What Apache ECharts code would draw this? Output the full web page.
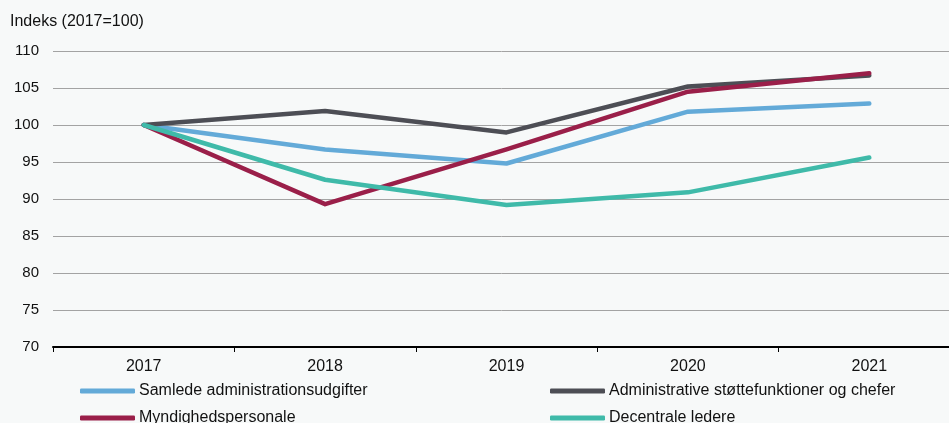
<!DOCTYPE html>
<html><head><meta charset="utf-8">
<script src="https://cdn.jsdelivr.net/npm/echarts@6/dist/echarts.min.js"></script>
<style>html,body{margin:0;padding:0;background:#f7f9f9}#c{width:949px;height:423px}</style>
</head><body><div id="c"></div>
<script>
const years = ['2017','2018','2019','2020','2021'];
const samlede = [100, 96.7, 94.8, 101.8, 102.9];
const administrative = [100, 101.9, 99.0, 105.2, 106.7];
const myndighed = [100, 89.3, 96.7, 104.5, 107.0];
const decentrale = [100, 92.6, 89.2, 90.9, 95.6];
const names = ['Samlede administrationsudgifter','Administrative støttefunktioner og chefer','Myndighedspersonale','Decentrale ledere'];
const colors = ['#63aad8','#4d4e55','#9a1f49','#3fbaa9'];
const data = [samlede, administrative, myndighed, decentrale];
const legendPos = [[80,383],[550,383],[80,410],[550,410]];

const chart = echarts.init(document.getElementById('c'));
const font = 'Liberation Sans, Arial, sans-serif';
chart.setOption({
  backgroundColor: '#f7f9f9',
  animation: false,
  textStyle: {fontFamily: font},
  graphic: [{type:'text', left: 10, top: 14, style:{text:'Indeks (2017=100)', font:'16px Liberation Sans, Arial', fill:'#111'}}],
  grid: {left: 53, right: -11, top: 51, bottom: 76, containLabel: false, outerBoundsMode: 'none'},
  legend: names.map((n,i)=>({left: legendPos[i][0], top: legendPos[i][1], padding:0, itemGap: 0,
     itemWidth: 55, itemHeight: 5, icon:'roundRect', data:[n],
     textStyle:{fontSize:16, color:'#111', fontFamily: font, padding:[0,0,0,-1]}})),
  xAxis: {type:'category', data: years, boundaryGap: true,
    axisLine:{lineStyle:{color:'#000', width:2}},
    axisTick:{show:true, length:5, lineStyle:{color:'#000', width:1}},
    axisLabel:{color:'#111', fontSize:16, margin:12, fontFamily: font}},
  yAxis: {type:'value', min:70, max:110, interval:5,
    axisLine:{show:false}, axisTick:{show:false},
    axisLabel:{color:'#111', fontSize:15, margin:14, fontFamily: font},
    splitLine:{lineStyle:{color:'#a3a3a3', width:1}}},
  series: data.map((d,i)=>({name:names[i], type:'line', data:d, symbol:'none',
    color: colors[i], lineStyle:{width:4.5, color: colors[i], cap:'round', join:'round'}, z: [2,3,4,5][i]}))
});
</script></body></html>
